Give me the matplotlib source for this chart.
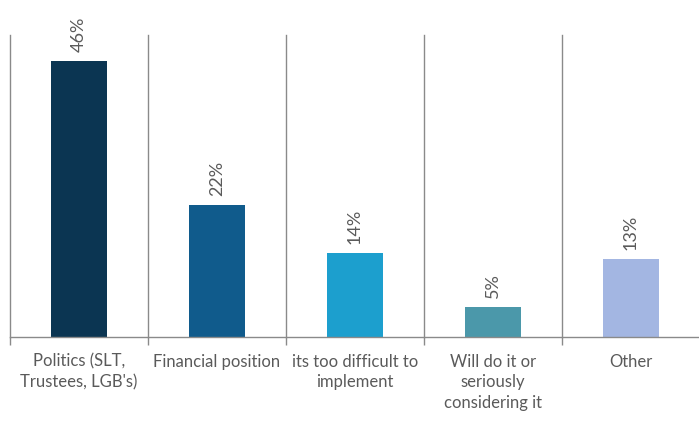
import matplotlib
matplotlib.use("Agg")
import matplotlib.pyplot as plt
import numpy as np

# reasons given, share of respondents (%)
categories = [
    "Politics (SLT,\nTrustees, LGB's)",
    "Financial position",
    "its too difficult to\nimplement",
    "Will do it or\nseriously\nconsidering it",
    "Other",
]
values = [46, 22, 14, 5, 13]
labels = ["46%", "22%", "14%", "5%", "13%"]
colors = ["#0b3552", "#105b8c", "#1c9fce", "#4b98aa", "#a3b6e2"]

plt.rcParams["font.family"] = ["Lato", "DejaVu Sans"]
text_color = "#5a5a5a"
line_color = "#8a8a8a"

fig = plt.figure(figsize=(6.99, 4.21), dpi=100)
ax = fig.add_axes([10 / 699, 84 / 421, 690 / 699, 302 / 421])

x = np.arange(len(values))
ax.bar(x, values, width=0.4, color=colors, zorder=2)

for xi, v, lab in zip(x, values, labels):
    ax.text(xi, v + 1.5, lab, rotation=90, ha="center", va="bottom",
            fontsize=13, color=text_color)

ax.set_xlim(-0.5, len(values) - 0.5)
ax.set_ylim(0, 50.3)

# separators between categories
for b in np.arange(-0.5, len(values), 1.0):
    ax.axvline(b, color=line_color, lw=1, zorder=1, clip_on=False)

for s in ["top", "right", "left"]:
    ax.spines[s].set_visible(False)
ax.spines["bottom"].set_color(line_color)
ax.spines["bottom"].set_linewidth(1)

ax.set_yticks([])
ax.set_xticks(np.arange(-0.5, len(values), 1.0), minor=False)
ax.set_xticklabels([])
ax.tick_params(axis="x", which="major", length=6, color=line_color, width=1)
ax.set_xticks(x, minor=True)
ax.set_xticklabels(categories, minor=True)
ax.tick_params(axis="x", which="minor", length=0, pad=12, labelsize=12,
               labelcolor=text_color)
for t in ax.get_xticklabels(minor=True):
    t.set_linespacing(1.35)
    t.set_va("top")

fig.savefig("out.png", dpi=100, facecolor="white")
